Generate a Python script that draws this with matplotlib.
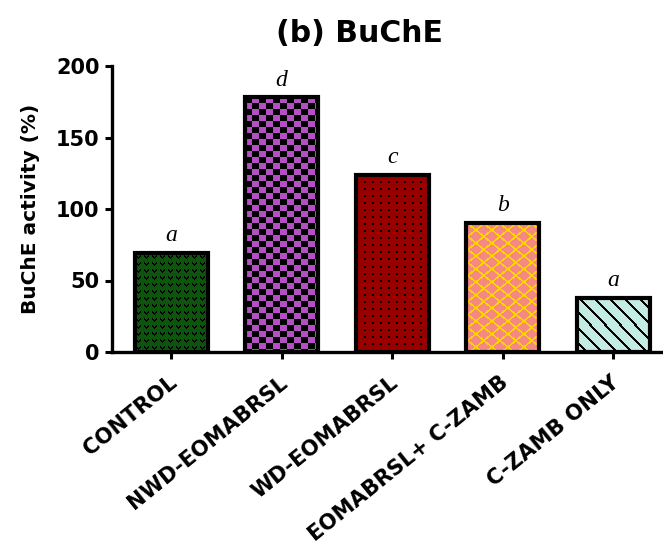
import numpy as np
import matplotlib
matplotlib.use("Agg")
import matplotlib.pyplot as plt
from matplotlib.transforms import ScaledTranslation

# Data
groups = ["CONTROL", "NWD-EOMABRSL", "WD-EOMABRSL", "EOMABRSL+ C-ZAMB", "C-ZAMB ONLY"]
activity = [69, 178, 124, 90, 38]
sig_letters = ["a", "d", "c", "b", "a"]
y_ticks = [0, 50, 100, 150, 200]

plt.rcParams["font.family"] = "DejaVu Sans"
plt.rcParams["font.weight"] = "bold"

W, H, DPI = 663, 545, 100
fig = plt.figure(figsize=(W / DPI, H / DPI), dpi=DPI)
ax = fig.add_axes([112 / W, 1 - 352 / H, 551 / W, 286 / H])

x = np.arange(len(groups))
bar_w = 0.66
ax.set_xlim(-0.534, 4.45)
ax.set_ylim(0, 200)


def hexrgb(h):
    h = h.lstrip("#")
    return np.array([int(h[i:i + 2], 16) for i in (0, 2, 4)], dtype=float) / 255.0


def texture(kind, wpx, hpx):
    # row 0 is the top of the bar (imshow origin="upper")
    yy, xx = np.mgrid[0:hpx, 0:wpx]
    img = np.zeros((hpx, wpx, 3))
    if kind == "chevron":
        base, ink = hexrgb("#0d550d"), hexrgb("#000000")
        img[:] = base
        tx, ty = xx % 8, yy % 7
        mask = ((ty == 2) & ((tx == 1) | (tx == 5))) | \
               ((ty == 3) & ((tx == 1) | (tx == 2) | (tx == 4) | (tx == 5))) | \
               ((ty == 4) & ((tx == 2) | (tx == 3) | (tx == 4))) | \
               ((ty == 5) & (tx == 3))
        img[mask] = ink
    elif kind == "checker":
        a, b = hexrgb("#b450c4"), hexrgb("#000000")
        mask = ((xx // 7) + (yy // 6)) % 2 == 0
        img[:] = a
        img[mask] = b
    elif kind == "dots":
        base, ink = hexrgb("#980000"), hexrgb("#000000")
        img[:] = base
        mask = ((xx % 8) < 2) & ((yy % 7) < 2)
        img[mask] = ink
    elif kind == "diamond":
        base, ink = hexrgb("#f58880"), hexrgb("#ffd400")
        img[:] = base
        u = (xx / 16.0 + yy / 13.0) % 1.0
        v = (xx / 16.0 - yy / 13.0) % 1.0
        mask = (u < 0.17) | (v < 0.17)
        img[mask] = ink
    elif kind == "stripes":
        base, ink = hexrgb("#c3ede2"), hexrgb("#000000")
        img[:] = base
        mask = ((xx - yy) % 15) < 3
        img[mask] = ink
    return img


patterns = ["chevron", "checker", "dots", "diamond", "stripes"]

bars = ax.bar(x, activity, width=bar_w, color="none", edgecolor="none", zorder=2)
fig.canvas.draw()
for rect, pat in zip(bars, patterns):
    x0, y0 = rect.get_x(), rect.get_y()
    x1, y1 = x0 + rect.get_width(), y0 + rect.get_height()
    p0 = ax.transData.transform((x0, y0))
    p1 = ax.transData.transform((x1, y1))
    wpx = max(int(round(abs(p1[0] - p0[0]))), 1)
    hpx = max(int(round(abs(p1[1] - p0[1]))), 1)
    img = texture(pat, wpx, hpx)
    im = ax.imshow(img, extent=(x0, x1, y0, y1), aspect="auto",
                   interpolation="nearest", origin="upper", zorder=2)
    im.set_clip_path(rect)

ax.bar(x, activity, width=bar_w, fill=False, edgecolor="black", linewidth=3, zorder=3)
ax.set_xlim(-0.534, 4.45)
ax.set_ylim(0, 200)

for xi, v, lab in zip(x, activity, sig_letters):
    ax.annotate(lab, (xi, v), xytext=(0, 5), textcoords="offset points",
                ha="center", va="bottom", fontsize=17, style="italic",
                fontweight="normal", fontfamily="Liberation Serif")

for s in ("top", "right"):
    ax.spines[s].set_visible(False)
for s in ("left", "bottom"):
    ax.spines[s].set_linewidth(2.4)
    ax.spines[s].set_zorder(4)

ax.set_yticks(y_ticks)
ax.set_yticklabels([str(t) for t in y_ticks], fontsize=15, fontweight="bold")
ax.tick_params(axis="y", length=5, width=2.2, pad=4)
ax.set_xticks(x)
ax.set_xticklabels(groups, rotation=39, ha="right", va="center",
                   rotation_mode="anchor", fontsize=15.2, fontweight="bold")
ax.tick_params(axis="x", length=5, width=2.2, pad=15)
shift = ScaledTranslation(3 / DPI, 0, fig.dpi_scale_trans)
for t in ax.get_xticklabels():
    t.set_transform(t.get_transform() + shift)

ax.set_ylabel("BuChE activity (%)", fontsize=14.5, fontweight="bold")
ax.yaxis.set_label_coords(-0.13, 0.5)

fig.text(360 / W, 1 - 33 / H, "(b) BuChE", ha="center", va="center",
         fontsize=21.5, fontweight="bold")

fig.savefig("out.png", dpi=DPI, facecolor="white")
